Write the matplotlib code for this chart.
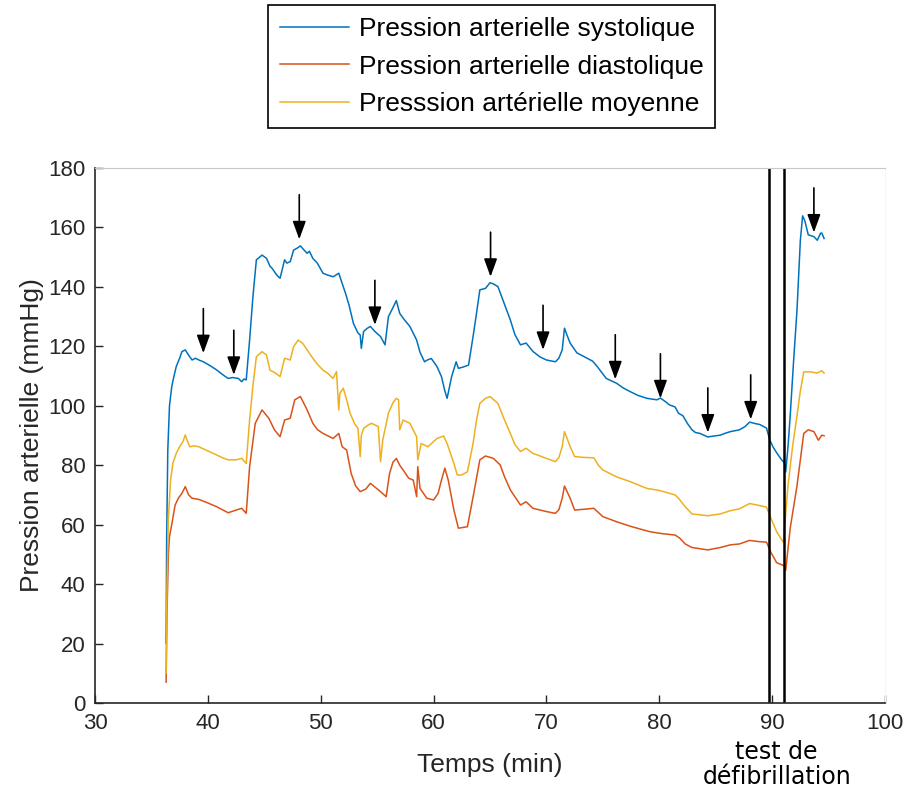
import matplotlib
matplotlib.use('Agg')
import matplotlib.pyplot as plt

# Pression systolique (temps en min, mmHg)
t_sys = [36.30, 36.35, 36.45, 36.6, 36.8, 37.0, 37.2, 37.5, 37.7, 38.0, 38.3, 38.6, 38.9, 39.2,
         39.6, 40.2, 40.8, 41.3, 41.8, 42.2, 42.7, 43.0, 43.2, 43.4, 43.7, 44.0, 44.3, 44.8,
         45.2, 45.5, 45.7, 46.1, 46.4, 46.8, 47.0, 47.3, 47.6, 47.9, 48.2, 48.5, 48.8, 49.0,
         49.3, 49.7, 50.2, 50.6, 51.1, 51.6, 52.2, 52.5, 52.9, 53.3, 53.5, 53.6, 53.8, 54.1,
         54.4, 54.8, 55.3, 55.7, 56.0, 56.4, 56.7, 57.0, 57.4, 57.9, 58.5, 58.8, 59.2, 59.5,
         59.8, 60.3, 60.7, 61.0, 61.2, 61.6, 62.0, 62.2, 62.6, 63.1, 63.5, 63.8, 64.1, 64.6,
         65.0, 65.3, 65.7, 66.2, 66.8, 67.2, 67.7, 68.2, 68.8, 69.4, 70.0, 70.8, 71.1, 71.4,
         71.6, 71.8, 72.1, 72.7, 73.6, 74.1, 74.5, 75.3, 76.2, 76.8, 77.4, 78.1, 78.9, 79.8,
         80.1, 80.5, 80.9, 81.4, 81.7, 82.1, 82.5, 82.9, 83.2, 83.6, 84.3, 84.8, 85.4, 85.8,
         86.3, 87.1, 87.6, 88.0, 88.5, 88.9, 89.5, 89.8, 90.1, 90.4, 90.8, 91.1, 91.2, 91.4,
         91.6, 91.9, 92.2, 92.5, 92.7, 92.9, 93.2, 93.7, 94.0, 94.3, 94.4, 94.6]
p_sys = [20, 55, 85, 100, 106.4, 110, 113.2, 116, 118.2, 118.8, 117, 115.4, 116, 115.4,
         114.8, 113.5, 112, 110.5, 109.2, 109.5, 109.2, 108.1, 109, 108.7, 122.1, 137, 149.1, 150.7,
         149.6, 147, 146.2, 144, 142.9, 149.1, 148, 148.5, 152.4, 153, 153.8, 152.5, 151.3, 152,
         149.6, 148, 144.6, 144, 143.4, 144.6, 137.8, 134, 127.7, 124.5, 123.8, 119.3, 125, 126,
         126.7, 125, 123.3, 120.5, 130, 133, 135.4, 131.1, 129, 126.7, 122.1, 118, 114.8, 115.5,
         115.9, 113.2, 109.8, 105, 102.5, 109.8, 114.8, 112.6, 113, 113.7, 123.3, 131, 139, 139.5,
         141.4, 141, 140.1, 135, 128.9, 124, 120.5, 121.1, 118.3, 116.5, 115.4, 114.8, 116, 118.8,
         126.1, 124, 121.1, 117.8, 116, 115, 113.2, 109.2, 107.6, 106, 104.8, 103.5, 102.5, 102,
         102.6, 101.5, 100.3, 99.6, 97.5, 96.6, 94, 91.9, 91, 90.7, 89.5, 89.8, 90.1, 90.7,
         91.3, 91.9, 93, 94.5, 94, 93.7, 92.5, 88.4, 86, 84.2, 82, 80.7, 77.7, 86,
         96.6, 115, 132.1, 155.7, 163.9, 162.2, 157.5, 156.9, 155.7, 158.1, 158.1, 156.3]

# Pression diastolique
t_dia = [36.30, 36.38, 36.5, 36.6, 36.8, 37.1, 37.4, 37.7, 38.0, 38.3, 38.6, 39.2, 40.0, 40.8,
         41.3, 41.8, 42.5, 43.0, 43.4, 43.7, 44.2, 44.8, 45.4, 45.9, 46.4, 46.8, 47.3, 47.7,
         48.2, 48.8, 49.3, 49.7, 50.2, 51.1, 51.6, 51.9, 52.3, 52.7, 53.1, 53.5, 54.0, 54.4,
         55.3, 55.8, 56.1, 56.4, 56.7, 57.0, 57.3, 57.8, 58.2, 58.5, 58.6, 58.8, 59.4, 60.0,
         60.4, 60.7, 61.0, 61.3, 61.8, 62.2, 63.0, 63.5, 64.1, 64.6, 65.3, 65.9, 66.3, 66.8,
         67.7, 68.2, 68.8, 70.0, 70.8, 71.1, 71.4, 71.6, 72.1, 72.5, 73.4, 74.2, 75.0, 76.2,
         77.4, 78.6, 79.2, 80.2, 81.4, 81.8, 82.3, 82.9, 84.3, 85.4, 86.3, 87.1, 88.0, 88.8,
         89.5, 89.9, 90.4, 91.1, 91.2, 91.6, 92.2, 92.8, 93.2, 93.7, 94.1, 94.4, 94.6]
p_dia = [7, 30, 50, 56, 60, 66.6, 69, 70.5, 72.8, 70, 68.9, 68.5, 67.3, 66.0,
         65, 64.0, 64.9, 65.5, 63.8, 79.5, 94.1, 98.6, 95.8, 91.9, 89.6, 95.2, 95.8, 102,
         103.1, 98.6, 94.1, 92, 90.7, 89.0, 90.7, 86.2, 85.1, 77.2, 73, 71.1, 72, 73.9,
         71.1, 69.4, 77.2, 81, 82.3, 80, 78.4, 75.6, 75.0, 69.4, 79.5, 72.2, 68.9, 68.3,
         70.5, 75, 79.0, 75.0, 64.9, 58.8, 59.3, 69.3, 81.8, 83.1, 82.3, 80.1, 76, 71.7,
         66.6, 67.7, 65.5, 64.4, 63.8, 65, 68.9, 73, 68.9, 64.9, 65.2, 65.5, 62.7, 61.0,
         59.5, 58.2, 57.6, 57, 56.5, 55.5, 53.5, 52.3, 51.5, 52.3, 53.2, 53.5, 54.7, 54.3,
         54.1, 50.6, 47.2, 46.1, 44.6, 58.8, 73, 90.7, 91.9, 91.3, 88.4, 90.1, 89.9]

# Pression moyenne
t_moy = [36.30, 36.38, 36.5, 36.7, 36.9, 37.2, 37.5, 37.8, 38.0, 38.2, 38.4, 38.8, 39.2, 40.0,
         40.8, 41.3, 41.8, 42.5, 43.0, 43.4, 43.7, 44.0, 44.3, 44.8, 45.2, 45.5, 46.0, 46.4,
         46.8, 47.3, 47.6, 48.0, 48.4, 48.8, 49.3, 49.7, 50.2, 50.6, 51.1, 51.4, 51.6, 51.7,
         52.0, 52.3, 52.6, 53.0, 53.3, 53.5, 53.6, 53.8, 54.2, 54.5, 55.1, 55.3, 55.5, 56.0,
         56.4, 56.7, 56.9, 57.0, 57.3, 57.9, 58.5, 58.6, 58.9, 59.5, 60.3, 60.9, 61.2, 61.8,
         62.1, 62.5, 63.0, 63.5, 63.8, 64.1, 64.6, 65.0, 65.7, 66.2, 66.8, 67.2, 67.7, 68.2,
         68.8, 70.0, 70.8, 71.1, 71.4, 71.6, 72.1, 72.5, 73.4, 74.2, 74.6, 75.0, 76.2, 77.4,
         78.9, 80.0, 80.4, 81.4, 81.7, 82.3, 82.9, 84.3, 85.4, 86.3, 87.1, 88.0, 88.8, 89.5,
         89.8, 90.4, 91.0, 91.4, 91.8, 92.2, 92.5, 92.8, 93.4, 94.0, 94.4, 94.6]
p_moy = [10, 40, 62, 75, 80.6, 84, 86.2, 88, 90.2, 88, 86.2, 86.5, 86.2, 84.8,
         83.4, 82.5, 81.8, 81.8, 82.3, 80.6, 95.2, 107, 116.5, 118.2, 117.1, 112, 111, 109.8,
         116, 115.4, 119.9, 122.1, 121, 118.8, 116, 114, 112, 111, 109.2, 111.5, 98.6, 104.2,
         105.9, 102, 97.5, 94, 92.4, 82.9, 90, 92.4, 93.5, 94.1, 93, 81.2, 88.5, 97.5,
         101, 102.5, 102, 91.9, 95.2, 94.1, 89.6, 81.8, 87.3, 86.2, 89.0, 89.8, 87.3, 80.6,
         76.7, 76.7, 77.8, 87.3, 95, 100.8, 102.5, 103.1, 100.8, 96, 90.7, 87, 84.6, 85.7,
         84.0, 82.3, 81.2, 82.5, 86.3, 91.3, 86.3, 82.9, 82.6, 82.5, 80, 78.4, 76.1, 74.5,
         72.2, 71.5, 71.1, 70.0, 68.9, 66, 63.6, 63.0, 63.6, 64.7, 65.3, 67.1, 66.5, 65.9,
         63.0, 57.6, 54.0, 73, 86, 96.6, 105, 111.4, 111.4, 111, 111.8, 111]

# Fleches (temps, pointe, longueur en mmHg)
arrow_t = [39.6, 42.3, 48.1, 54.8, 65.05, 69.7, 76.1, 80.1, 84.3, 88.1, 93.7]
arrow_tip = [117.7, 110.4, 156.0, 127.2, 143.4, 118.8, 108.9, 102.5, 91.0, 95.4, 158.3]
arrow_len = 15

# Test de defibrillation
defib_t = [89.7, 91.05]

labels = ['Pression arterielle systolique', 'Pression arterielle diastolique',
          'Presssion artérielle moyenne']
couleurs = ['#0072BD', '#D95319', '#EDB120']

plt.rcParams['font.family'] = ['Liberation Sans', 'DejaVu Sans']

fig = plt.figure(figsize=(9.09, 7.91), dpi=100)
ax = fig.add_axes([0.1045, 0.1113, 0.8691, 0.6763])

lignes = []
for t, p, lab, c in zip([t_sys, t_dia, t_moy], [p_sys, p_dia, p_moy], labels, couleurs):
    l, = ax.plot(t, p, color=c, lw=1.1, label=lab)
    lignes.append(l)

for xv in defib_t:
    ax.axvline(xv, color='k', lw=1.8)

for t, tip in zip(arrow_t, arrow_tip):
    ax.annotate('', xy=(t, tip), xytext=(t, tip + arrow_len),
                arrowprops=dict(arrowstyle='-|>,head_length=0.55,head_width=0.2',
                                color='k', lw=1.2, mutation_scale=20,
                                shrinkA=0, shrinkB=0))

ax.set_xlim(30, 100)
ax.set_ylim(0, 180)
ax.set_xticks(range(30, 101, 10))
ax.set_yticks(range(0, 181, 20))
ax.tick_params(direction='in', length=6, width=1, colors='#262626', labelsize=16, pad=7)

for s in ['left', 'bottom']:
    ax.spines[s].set_color('#262626')
    ax.spines[s].set_linewidth(1.2)
ax.spines['top'].set_color('#c8c8c8')
ax.spines['right'].set_color('#f6f6f6')

ax.set_xlabel('Temps (min)', fontsize=19, color='#262626', labelpad=14)
ax.set_ylabel('Pression arterielle (mmHg)', fontsize=19, color='#262626', labelpad=3)

# annotation sous l'axe
ax.text(90.4, -12.3, 'test de\ndéfibrillation', family=['DejaVu Sans'], fontsize=17,
        ha='center', va='top', linespacing=1.07, color='black')

leg = fig.legend(handles=lignes, loc='upper center', bbox_to_anchor=(0.5407, 0.9937),
                 fontsize=19, frameon=True, fancybox=False, edgecolor='black',
                 framealpha=1, handlelength=2.65, handletextpad=0.35,
                 labelspacing=0.52, borderpad=0.45, borderaxespad=0)
leg.get_frame().set_linewidth(1.2)

fig.savefig('out.png', dpi=100)
